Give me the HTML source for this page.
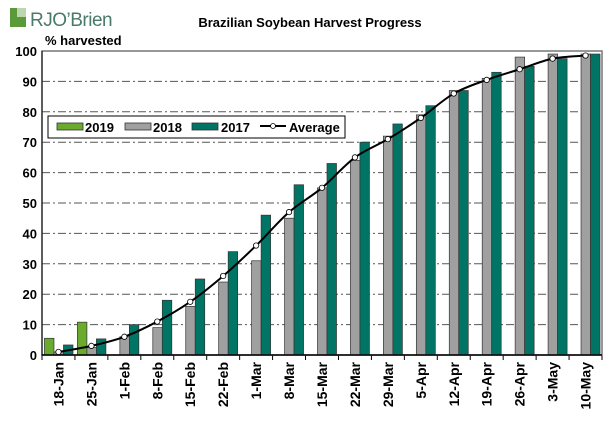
<!DOCTYPE html>
<html><head><meta charset="utf-8"><style>
body{margin:0;background:#fff;}
svg text{font-family:"Liberation Sans",Arial,sans-serif;}
</style></head><body>
<svg id="c" width="616" height="421" xmlns="http://www.w3.org/2000/svg">
<g>
<rect x="10" y="8" width="16" height="19" fill="#5a9a3a"/>
<rect x="17" y="8" width="9" height="9" fill="#fff" opacity="0.6"/>
<text x="30" y="26" font-size="19" fill="#4a7a6a" font-family="Liberation Sans" letter-spacing="-0.5">RJO’Brien</text>
</g>
<text x="310" y="27" font-size="13" font-weight="bold" text-anchor="middle">Brazilian Soybean Harvest Progress</text>
<text x="45" y="45" font-size="13" font-weight="bold">% harvested</text>
<g id="grid"></g><g id="bars"></g><g id="line"></g><g id="axes"></g>
<g>
<rect x="48" y="116" width="297" height="22" fill="#fff" stroke="#000" stroke-width="1"/>
<rect x="57" y="123" width="26" height="7" fill="#6aab2e" stroke="#333" stroke-width="0.8"/>
<text x="85" y="132" font-size="13" font-weight="bold">2019</text>
<rect x="125" y="123" width="26" height="7" fill="#a0a0a0" stroke="#333" stroke-width="0.8"/>
<text x="153" y="132" font-size="13" font-weight="bold">2018</text>
<rect x="192" y="123" width="26" height="7" fill="#007566" stroke="#333" stroke-width="0.8"/>
<text x="221" y="132" font-size="13" font-weight="bold">2017</text>
<line x1="260" y1="126" x2="286" y2="126" stroke="#000" stroke-width="2"/>
<circle cx="273" cy="126" r="2.5" fill="#fff" stroke="#000" stroke-width="0.8"/>
<text x="289" y="132" font-size="13" font-weight="bold">Average</text>
</g>
</svg>
<script>
const categories=["18-Jan","25-Jan","1-Feb","8-Feb","15-Feb","22-Feb","1-Mar","8-Mar","15-Mar","22-Mar","29-Mar","5-Apr","12-Apr","19-Apr","26-Apr","3-May","10-May"];
const s2019=[5.5,10.8,null,null,null,null,null,null,null,null,null,null,null,null,null,null,null];
const s2018=[1,2.5,6,9,16,24,31,45,55,64,72,79,87,91,98,99,99];
const s2017=[3.3,5.3,10,18,25,34,46,56,63,70,76,82,87,93,95,97.5,99];
const avg=[1,3,6,11,17.5,26,36,47,55,65,71,78,86,90.5,94,97.5,98.5];
const yTicks=[0,10,20,30,40,50,60,70,80,90,100];
const NS="http://www.w3.org/2000/svg";
const X0=42,X1=602,Y0=355,Y1=51;
const band=(X1-X0)/categories.length;
const xc=i=>X0+band*(i+0.5);
const y=v=>Y0-(Y0-Y1)*v/100;
function mk(tag,attrs,parent){const e=document.createElementNS(NS,tag);for(const k in attrs)e.setAttribute(k,attrs[k]);document.getElementById(parent).appendChild(e);return e;}
yTicks.forEach(t=>{
  if(t>0&&t<100){const g=mk('line',{x1:X0,x2:X1,y1:y(t),y2:y(t),stroke:'#555','stroke-width':1,'stroke-dasharray':'8,3,2,3'},'grid');
  
  }
  const l=mk('text',{x:37,y:y(t)+5,'font-size':13,'font-weight':'bold','text-anchor':'end'},'axes');l.textContent=t;
  
  
});
const bw=9.5;
function bar(i,v,off,fill,name){if(v==null)return;const r=mk('rect',{x:xc(i)+off,y:y(v),width:bw,height:Y0-y(v),fill:fill,stroke:'#333','stroke-width':0.7},'bars');
  
  }
categories.forEach((c,i)=>{
  bar(i,s2019[i],-14,'#6aab2e','bar-2019');
  bar(i,s2018[i],-4.5,'#a0a0a0','bar-2018');
  bar(i,s2017[i],5,'#007566','bar-2017');
  const t=mk('text',{transform:`translate(${xc(i)+5},362) rotate(-90)`,'font-size':14,'font-weight':'bold','text-anchor':'end'},'axes');t.textContent=c;
  
  
  const tk=mk('line',{x1:X0+band*(i+1),x2:X0+band*(i+1),y1:Y0,y2:Y0+5,stroke:'#000'},'axes');
  
  
});
const pts=avg.map((v,i)=>[xc(i),y(v)]);
let d=`M${pts[0][0]},${pts[0][1]}`;
for(let i=0;i<pts.length-1;i++){const p0=pts[Math.max(0,i-1)],p1=pts[i],p2=pts[i+1],p3=pts[Math.min(pts.length-1,i+2)];
d+=` C${p1[0]+(p2[0]-p0[0])/6},${p1[1]+(p2[1]-p0[1])/6} ${p2[0]-(p3[0]-p1[0])/6},${p2[1]-(p3[1]-p1[1])/6} ${p2[0]},${p2[1]}`;}
const ln=mk('path',{d:d,fill:'none',stroke:'#000','stroke-width':2},'line');


pts.forEach(p=>{const c=mk('circle',{cx:p[0],cy:p[1],r:2.7,fill:'#fff',stroke:'#000','stroke-width':0.8},'line');
  
  });
const fr=mk('rect',{x:X0,y:Y1,width:X1-X0,height:Y0-Y1,fill:'none',stroke:'#777','stroke-width':1.5},'axes');


const ax=mk('line',{x1:X0,x2:X1,y1:Y0,y2:Y0,stroke:'#000','stroke-width':1.5},'axes');


const ay=mk('line',{x1:X0,x2:X0,y1:Y1,y2:Y0+5,stroke:'#000','stroke-width':1},'axes');


</script>
</body></html>
